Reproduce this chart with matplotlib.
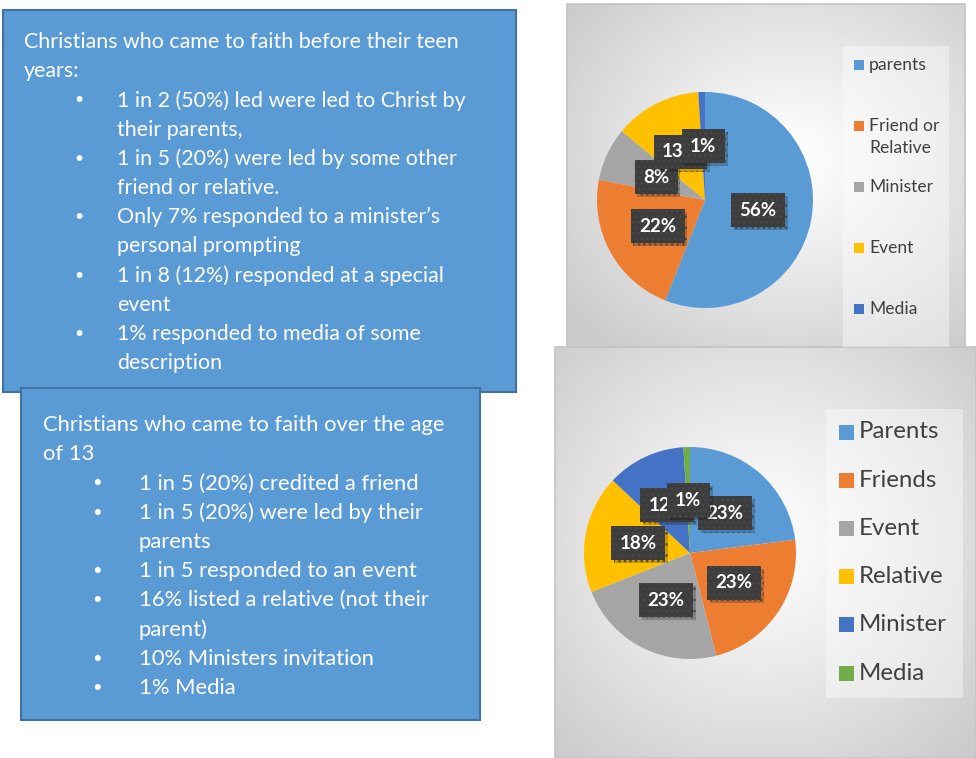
import numpy as np
import matplotlib.pyplot as plt
from matplotlib.patches import Rectangle
import matplotlib.patheffects as pe

plt.rcParams['font.family'] = ['Lato', 'DejaVu Sans']

# pie data: before teen years
young_labels = ["parents", "Friend or\nRelative", "Minister", "Event", "Media"]
young_values = [56, 22, 8, 13, 1]
young_colors = ["#5B9BD5", "#ED7D31", "#A5A5A5", "#FFC000", "#4472C4"]

# pie data: over the age of 13
older_labels = ["Parents", "Friends", "Event", "Relative", "Minister", "Media"]
older_values = [23, 23, 23, 18, 12, 1]
older_colors = ["#5B9BD5", "#ED7D31", "#A5A5A5", "#FFC000", "#4472C4", "#70AD47"]

young_title = ["Christians who came to faith before their teen", "years:"]
young_points = [
    ["1 in 2 (50%) led were led to Christ by", "their parents,"],
    ["1 in 5 (20%) were led by some other", "friend or relative."],
    ["Only 7% responded to a minister\u2019s", "personal prompting"],
    ["1 in 8 (12%) responded at a special", "event"],
    ["1% responded to media of some", "description"],
]
older_title = ["Christians who came to faith over the age", "of 13"]
older_points = [
    ["1 in 5 (20%) credited a friend"],
    ["1 in 5 (20%) were led by their", "parents"],
    ["1 in 5 responded to an event"],
    ["16% listed a relative (not their", "parent)"],
    ["10% Ministers invitation"],
    ["1% Media"],
]

W, H = 976, 758
fig = plt.figure(figsize=(W / 100, H / 100), dpi=100)
bg = fig.add_axes([0, 0, 1, 1])
bg.set_axis_off()


def text_panel(box, title, points, tx, bx, btx, y, step, fs, z):
    x0, y0, x1, y1 = box
    bg.add_patch(Rectangle((x0, y0), x1 - x0, y1 - y0, fc="#5B9BD5",
                           ec="#41719C", lw=1.5, zorder=z))
    for line in title:
        bg.text(tx, y, line, color="white", fontsize=fs, va="center", zorder=z + 0.5)
        y += step
    for pt in points:
        bg.text(bx, y, "\u2022", color="white", fontsize=fs * 0.75, va="center", zorder=z + 0.5)
        for line in pt:
            bg.text(btx, y, line, color="white", fontsize=fs, va="center", zorder=z + 0.5)
            y += step


def grad_panel(box, cx, cy, z):
    x0, y0, x1, y1 = box
    xs = np.linspace(x0, x1, 300)
    ys = np.linspace(y0, y1, 300)
    X, Y = np.meshgrid(xs, ys)
    d = np.hypot((X - cx) / (x1 - x0), (Y - cy) / (y1 - y0))
    v = np.clip(1.0 - 0.30 * d ** 1.1, 0.80, 1.0)
    bg.imshow(v, cmap="gray", vmin=0, vmax=1, extent=(x0, x1, y1, y0),
              zorder=z, interpolation="bilinear")
    bg.add_patch(Rectangle((x0, y0), x1 - x0, y1 - y0, fc="none",
                           ec="#c4c4c4", lw=1.2, zorder=z + 0.1))


def legend_panel(box, labels, colors, x, y, step, sq, fs, lstep, z):
    x0, y0, x1, y1 = box
    bg.add_patch(Rectangle((x0, y0), x1 - x0, y1 - y0, fc="white", alpha=0.4,
                           ec="none", zorder=z))
    for lab, col in zip(labels, colors):
        bg.add_patch(Rectangle((x, y - sq / 2), sq, sq, fc=col, ec="none", zorder=z + 0.1))
        for k, part in enumerate(lab.split("\n")):
            bg.text(x + sq + 5, y + k * lstep, part, color="#404040", fontsize=fs,
                    va="center", zorder=z + 0.2)
        y += step


def pie_panel(cx, cy, r, values, colors, fs):
    ax = fig.add_axes([(cx - r) / W, 1 - (cy + r) / H, 2 * r / W, 2 * r / H], zorder=5)
    ax.pie(values, colors=colors, startangle=90, counterclock=False,
           autopct="%1.0f%%", pctdistance=0.5, radius=1,
           wedgeprops=dict(linewidth=0),
           textprops=dict(color="white", fontsize=fs, fontweight="bold"))
    ax.set_xlim(-1, 1)
    ax.set_ylim(-1, 1)
    for t in ax.texts:
        if not t.get_text():
            continue
        t.set_bbox(dict(boxstyle="square,pad=0.45", fc="#3d3d3d", ec="#484848",
                        lw=0, hatch="..."))
        t.get_bbox_patch().set_path_effects(
            [pe.SimplePatchShadow(offset=(2, -2), shadow_rgbFace="black", alpha=0.2),
             pe.Normal()])
    return ax


# text boxes
text_panel((3, 10, 516, 392), young_title, young_points, 24, 74, 117, 42, 29.2, 15.4, 2)
text_panel((21, 388, 480, 720), older_title, older_points, 43, 92, 139, 425, 29.2, 15.8, 3)

# chart panels
grad_panel((567, 4, 965, 347), 790, 160, 1)
grad_panel((555, 347, 976, 758), 760, 540, 1.2)

legend_panel((843, 46, 949, 347), young_labels, young_colors, 854, 65, 61, 10, 12.6, 22, 1.5)
legend_panel((826, 409, 963, 698), older_labels, older_colors, 839, 432, 48.2, 15, 17.3, 30, 1.5)

pie_panel(705, 200, 108, young_values, young_colors, 13.5)
pie_panel(690, 553, 106, older_values, older_colors, 13.5)

bg.set_xlim(0, W)
bg.set_ylim(H, 0)
bg.set_aspect("auto")

fig.savefig("out.png", dpi=100)
